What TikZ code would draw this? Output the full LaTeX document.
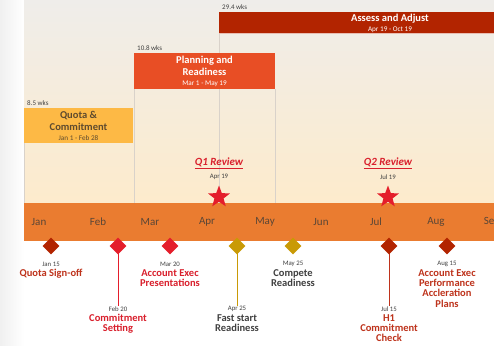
\documentclass[tikz,border=0pt]{standalone}
\usepackage{fontspec}
\setmainfont{Carlito}
\usetikzlibrary{shapes.geometric}
\definecolor{bgtop}{HTML}{EFEDEA}
\definecolor{bgbot}{HTML}{FDEBCC}
\definecolor{band}{HTML}{EA7C30}
\definecolor{quota}{HTML}{FDB945}
\definecolor{plan}{HTML}{E84E25}
\definecolor{assess}{HTML}{B22400}
\definecolor{msdark}{HTML}{B22400}
\definecolor{msred}{HTML}{E41E2B}
\definecolor{msgold}{HTML}{C99A06}
\definecolor{txtdark}{HTML}{BE331C}
\definecolor{txtred}{HTML}{D91F2C}
\definecolor{txtgray}{HTML}{404040}
\definecolor{quotatxt}{HTML}{5E4A2E}
\definecolor{monthtxt}{HTML}{5A4636}
\definecolor{grid}{HTML}{D9D2CA}
\tikzset{
  wks/.style={font=\fontsize{7}{8}\selectfont, text=txtgray, anchor=south west, inner sep=0pt},
  month/.style={font=\fontsize{11}{12}\selectfont, text=monthtxt, inner sep=0pt},
  diam/.style={diamond, minimum width=17pt, minimum height=17pt, inner sep=0pt, draw=none},
  msdate/.style={font=\fontsize{6.8}{8}\selectfont, text=txtgray, inner sep=0pt},
  mslabel/.style={font=\fontsize{10.5}{10.4}\selectfont\bfseries, align=center, anchor=north, inner sep=0pt},
  stem/.style={line width=0.8pt},
  gridline/.style={draw=grid, line width=0.6pt},
  review/.style={font=\fontsize{11}{12}\selectfont\bfseries\itshape, text=txtred, inner sep=0pt},
  revstar/.style={star, star points=5, star point ratio=2.4, fill=msred, minimum size=23pt, inner sep=0pt, draw=none},
  boxtitle/.style={inner sep=0pt, align=center, font=\fontsize{10.5}{12}\selectfont\bfseries},
  boxdate/.style={inner sep=0pt, font=\fontsize{7.2}{8}\selectfont}
}
\begin{document}
\begin{tikzpicture}[x=1pt, y=-1pt]
\useasboundingbox (0,0) rectangle (494,345);
% background
\fill[white] (0,0) rectangle (494,345);
\shade[left color=black!6, right color=white] (0,0) rectangle (24,345);
\shade[top color=bgtop, bottom color=bgbot] (24,0) rectangle (494,203);
% grid lines
\draw[gridline] (24,143) -- (24,203);
\draw[gridline] (134,89) -- (134,203);
\draw[gridline] (219,34) -- (219,203);
\draw[gridline] (275,89) -- (275,203);
% phase boxes
\fill[quota] (24,108) rectangle (133,143);
\node[wks] (w1) at (27,105.5) {8.5 wks};
\node[boxtitle, text=quotatxt] (quotat) at (78.5,121) {Quota \&\\Commitment};
\node[boxdate, text=quotatxt] (quotad) at (78.5,138) {Jan 1 - Feb 28};

\fill[plan] (134,53) rectangle (275,89);
\node[wks] (w2) at (137,50.5) {10.8 wks};
\node[boxtitle, text=white] (plant) at (204.5,66) {Planning and\\Readiness};
\node[boxdate, text=white] (pland) at (204.5,83.5) {Mar 1 - May 19};

\fill[assess] (219,12) rectangle (494,34);
\fill[white!70!assess] (219,33.3) rectangle (494,34.3);
\node[wks] (w3) at (222,9.5) {29.4 wks};
\node[boxtitle, text=white] (asst) at (390,18.5) {Assess and Adjust};
\node[boxdate, text=white] (assd) at (390,29.5) {Apr 19 - Oct 19};

% band
\fill[band] (24,203) rectangle (494,241);
\foreach \m/\x/\n in {Jan/39/m1, Feb/98/m2, Mar/150/m3, Apr/207/m4, May/265/m5, Jun/321/m6, Jul/376/m7, Aug/436/m8, Sep/492/m9}
  \node[month] (\n) at (\x,222) {\m};

% reviews
\node[review] (q1) at (219,163) {\underline{Q1 Review}};
\node[msdate] (q1d) at (219,177) {Apr 19};
\node[revstar] (q1s) at (219,197) {};
\node[review] (q2) at (388,163) {\underline{Q2 Review}};
\node[msdate] (q2d) at (388,177) {Jul 19};
\node[revstar] (q2s) at (388,197) {};

% milestones
\node[diam, fill=msdark] (d1) at (51,246) {};
\node[msdate] (d1d) at (51,264) {Jan 15};
\node[mslabel, text=txtdark] (d1l) at (51,269) {Quota Sign-off};

\node[msdate] (d2d) at (118,309) {Feb 20};
\draw[stem, draw=msred] (118,246) -- (d2d.north);
\node[diam, fill=msred] (d2) at (118,246) {};
\node[mslabel, text=txtred] (d2l) at (118,314) {Commitment\\Setting};

\node[diam, fill=msred] (d3) at (170,246) {};
\node[msdate] (d3d) at (170,264) {Mar 20};
\node[mslabel, text=txtred] (d3l) at (170,269) {Account Exec\\Presentations};

\node[msdate] (d4d) at (237,309) {Apr 25};
\draw[stem, draw=msgold] (237,246) -- (d4d.north);
\node[diam, fill=msgold] (d4) at (237,246) {};
\node[mslabel, text=txtgray] (d4l) at (237,314) {Fast start\\Readiness};

\node[diam, fill=msgold] (d5) at (293,246) {};
\node[msdate] (d5d) at (293,264) {May 25};
\node[mslabel, text=txtgray] (d5l) at (293,269) {Compete\\Readiness};

\node[msdate] (d6d) at (389,309) {Jul 15};
\draw[stem, draw=txtdark] (389,246) -- (d6d.north);
\node[diam, fill=msdark] (d6) at (389,246) {};
\node[mslabel, text=txtdark] (d6l) at (389,314) {H1\\Commitment\\Check};

\node[diam, fill=msdark] (d7) at (447,246) {};
\node[msdate] (d7d) at (447,264) {Aug 15};
\node[mslabel, text=txtdark] (d7l) at (447,269) {Account Exec\\Performance\\Accleration\\Plans};
\end{tikzpicture}
\end{document}
